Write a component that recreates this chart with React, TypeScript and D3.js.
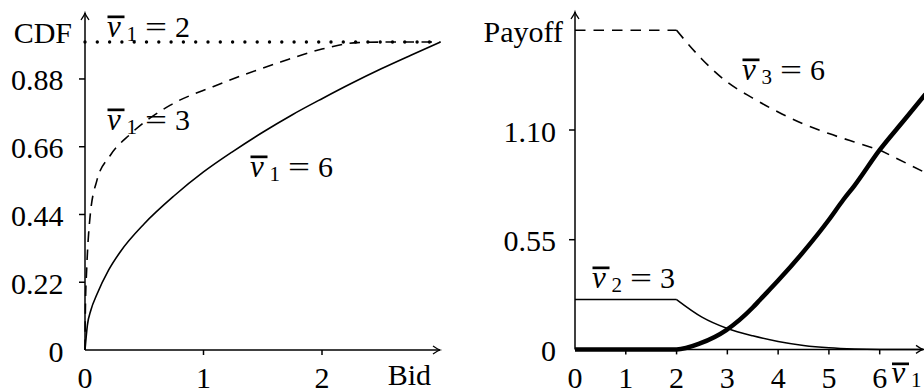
import React from "react";
import * as d3 from "d3";

// ---------- Left panel: CDF of bids ----------
const bidTicks = [1, 2];
const bidTickLabels = ["0", "1", "2"];
const cdfTicks = [0.22, 0.44, 0.66, 0.88];
const cdfTickLabels = ["0", "0.22", "0.44", "0.66", "0.88"];

const bidV6 = [0, 0.02, 0.05, 0.1, 0.2, 0.3, 0.5, 0.75, 1, 1.25, 1.5, 1.75, 2, 2.25, 2.5, 2.75, 3];
const cdfV6 = [0, 0.08, 0.13, 0.18, 0.26, 0.32, 0.41, 0.5, 0.578, 0.645, 0.707, 0.764, 0.816, 0.866, 0.913, 0.957, 1.0];

const bidV3 = [0, 0.004, 0.014, 0.042, 0.1, 0.21, 0.38, 0.72, 1.08, 1.65, 2.0, 2.3, 2.6, 3.0];
const cdfV3 = [0, 0.15, 0.26, 0.43, 0.55, 0.63, 0.7, 0.795, 0.855, 0.935, 0.977, 0.998, 1.0, 1.0];

const bidV2 = [0, 3];
const cdfV2 = [1, 1];

// ---------- Right panel: payoffs vs v1 ----------
const v1Ticks = [1, 2, 3, 4, 5, 6];
const v1TickLabels = ["0", "1", "2", "3", "4", "5", "6"];
const payTicks = [0.55, 1.1];
const payTickLabels = ["0", "0.55", "1.10"];

const v1Bidder1 = [0, 2, 2.46, 2.98, 3.5, 3.64, 4, 4.5, 5, 5.28, 5.5, 6, 6.5, 6.9];
const payBidder1 = [0, 0, 0.03, 0.097, 0.21, 0.248, 0.345, 0.49, 0.65, 0.749, 0.82, 1.0, 1.155, 1.28];

const v1Bidder2 = [0, 2, 2.5, 3, 3.5, 4, 4.5, 5, 5.5, 6, 6.9];
const payBidder2 = [0.25, 0.25, 0.162, 0.105, 0.068, 0.04, 0.02, 0.008, 0.002, 0, 0];

const v1Bidder3 = [0, 1, 2, 2.5, 3, 3.5, 4, 4.5, 5, 5.5, 6, 6.9];
const payBidder3 = [1.6, 1.6, 1.6, 1.455, 1.34, 1.26, 1.19, 1.13, 1.082, 1.04, 1.0, 0.886];

const FONT = "'Liberation Serif', 'DejaVu Serif', 'Times New Roman', serif";

function Arrow({ x, y, dir }: { x: number; y: number; dir: "up" | "right" }) {
  const d =
    dir === "up"
      ? `M${x - 4},${y + 7} Q${x - 0.6},${y + 2} ${x},${y} Q${x + 0.6},${y + 2} ${x + 4},${y + 7}`
      : `M${x - 7},${y - 4} Q${x - 2},${y - 0.6} ${x},${y} Q${x - 2},${y + 0.6} ${x - 7},${y + 4}`;
  return <path d={d} fill="none" stroke="#000" strokeWidth={1.3} />;
}

const T = ({ style, ...p }: any) => <text {...p} style={{ fontFamily: FONT, ...(style || {}) }} />;

function VLabel({ x, b, sub, val }: { x: number; b: number; sub: string; val: string }) {
  return (
    <g fill="#000">
      <T x={x} y={b} fontSize={31} style={{ fontStyle: "italic" }}>v</T>
      <rect x={x + 0.5} y={b - 21.5} width={17} height={2.7} />
      <T x={x + 19.5} y={b + 4} fontSize={21}>{sub}</T>
      <T x={x + 38} y={b} fontSize={30} textLength={22} lengthAdjust="spacingAndGlyphs">=</T>
      <T x={x + 68} y={b} fontSize={30}>{val}</T>
    </g>
  );
}

export default function App() {
  const xL = d3.scaleLinear().domain([0, 3]).range([85, 440.5]);
  const yL = d3.scaleLinear().domain([0, 1]).range([350, 42]);
  const xR = d3.scaleLinear().domain([0, 6]).range([575, 879.7]);
  const yR = d3.scaleLinear().domain([0, 1.1]).range([349.4, 130]);

  const mk = (sx: any, sy: any) => (xs: number[], ys: number[], segs: number[][]) =>
    segs
      .map(([a, b]) =>
        d3
          .line<number>()
          .x((_, i) => sx(xs[a + i]))
          .y((d) => sy(d))
          .curve(d3.curveMonotoneX)(ys.slice(a, b + 1)) || ""
      )
      .join(" ");
  const lineL = mk(xL, yL);
  const lineR = mk(xR, yR);

  const x0L = xL(0), y0L = yL(0);
  const x0R = xR(0), y0R = yR(0);

  return (
    <svg
      width={924}
      height={392}
      style={{ position: "absolute", left: 0, top: 0, background: "#fff", fontFamily: FONT }}
    >
      <rect width={924} height={392} fill="#fff" />
      {/* ===== LEFT PANEL ===== */}
      <g>
        <path d={lineL(bidV2, cdfV2, [[0, 1]])} fill="none" stroke="#000" strokeWidth={3.4} strokeLinecap="round" strokeDasharray="0 12.3" />
        <path d={lineL(bidV3, cdfV3, [[0, bidV3.length - 1]])} fill="none" stroke="#000" strokeWidth={1.6} strokeDasharray="10.5 7.5" />
        <path d={lineL(bidV6, cdfV6, [[0, bidV6.length - 1]])} fill="none" stroke="#000" strokeWidth={1.6} />
        <line x1={x0L} y1={y0L} x2={x0L} y2={13} stroke="#000" strokeWidth={1.5} />
        <line x1={x0L} y1={y0L} x2={440} y2={y0L} stroke="#000" strokeWidth={1.5} />
        <Arrow x={x0L} y={13} dir="up" />
        <Arrow x={440} y={y0L} dir="right" />
        {cdfTicks.map((t) => (
          <line key={t} x1={x0L - 6} x2={x0L} y1={yL(t)} y2={yL(t)} stroke="#000" strokeWidth={1.5} />
        ))}
        {bidTicks.map((t) => (
          <line key={t} x1={xL(t)} x2={xL(t)} y1={y0L} y2={y0L + 5} stroke="#000" strokeWidth={1.5} />
        ))}
        {[0, ...cdfTicks].map((t, i) => (
          <T key={t} x={63.5} y={yL(t) + 11.5} fontSize={30} textAnchor="end">
            {cdfTickLabels[i]}
          </T>
        ))}
        {[0, ...bidTicks].map((t, i) => (
          <T key={t} x={xL(t)} y={388} fontSize={30} textAnchor="middle">
            {bidTickLabels[i]}
          </T>
        ))}
        <T x={72} y={43} fontSize={30} textAnchor="end">CDF</T>
        <T x={431} y={385} fontSize={30} textAnchor="end">Bid</T>
        <VLabel x={107} b={37} sub="1" val="2" />
        <VLabel x={107} b={130} sub="1" val="3" />
        <VLabel x={250} b={177} sub="1" val="6" />
      </g>

      {/* ===== RIGHT PANEL ===== */}
      <g>
        <path d={lineR(v1Bidder3, payBidder3, [[0, 2], [2, 10], [10, 11]])} fill="none" stroke="#000" strokeWidth={1.6} strokeDasharray="10.5 8" />
        <path d={lineR(v1Bidder2, payBidder2, [[0, 1], [1, 10]])} fill="none" stroke="#000" strokeWidth={1.5} />
        <line x1={x0R} y1={y0R} x2={x0R} y2={12} stroke="#000" strokeWidth={1.5} />
        <line x1={x0R} y1={y0R} x2={923} y2={y0R} stroke="#000" strokeWidth={1.5} />
        <Arrow x={x0R} y={12} dir="up" />
        <Arrow x={923} y={y0R} dir="right" />
        <path d={lineR(v1Bidder1, payBidder1, [[0, v1Bidder1.length - 1]])} fill="none" stroke="#000" strokeWidth={4.5} />
        {payTicks.map((t) => (
          <line key={t} x1={x0R - 6} x2={x0R} y1={yR(t)} y2={yR(t)} stroke="#000" strokeWidth={1.5} />
        ))}
        {v1Ticks.map((t) => (
          <line key={t} x1={xR(t)} x2={xR(t)} y1={y0R} y2={y0R + 5} stroke="#000" strokeWidth={1.5} />
        ))}
        {[0, ...payTicks].map((t, i) => (
          <T key={t} x={556} y={yR(t) + 11.5} fontSize={30} textAnchor="end">
            {payTickLabels[i]}
          </T>
        ))}
        {[0, ...v1Ticks].map((t, i) => (
          <T key={t} x={xR(t)} y={388} fontSize={30} textAnchor="middle">
            {v1TickLabels[i]}
          </T>
        ))}
        <T x={563} y={42} fontSize={30} textAnchor="end">Payoff</T>
        <g fill="#000">
          <T x={891.5} y={383} fontSize={31} style={{ fontStyle: "italic" }}>v</T>
          <rect x={892} y={362.5} width={17} height={2.7} />
          <T x={911} y={387} fontSize={21}>1</T>
        </g>
        <VLabel x={742} b={80} sub="3" val="6" />
        <VLabel x={592} b={288} sub="2" val="3" />
      </g>
    </svg>
  );
}
